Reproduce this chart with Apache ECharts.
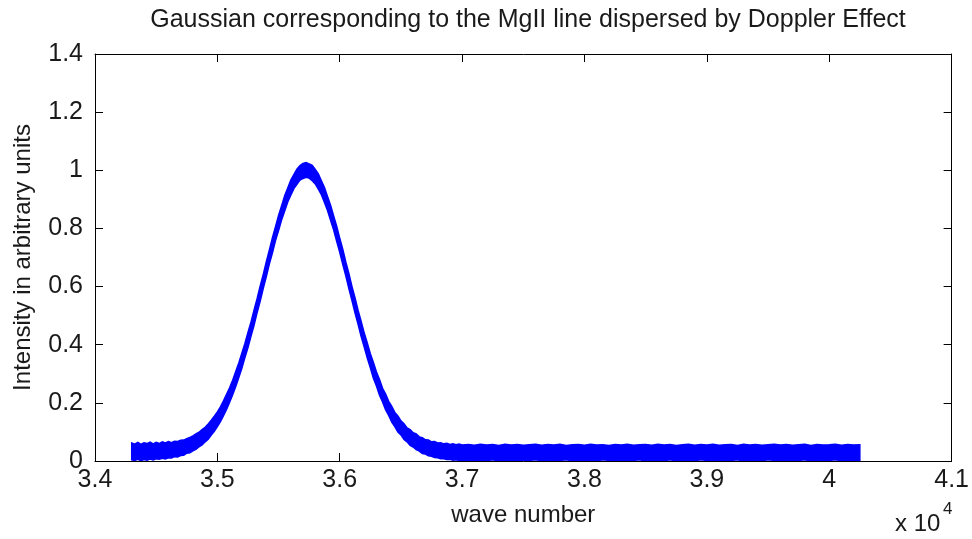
<!DOCTYPE html>
<html>
<head>
<meta charset="utf-8">
<script src="https://cdn.jsdelivr.net/npm/echarts@6/dist/echarts.min.js"></script>
<style>
  html, body { margin: 0; padding: 0; background: #fff; }
  #main { width: 972px; height: 539px; }
</style>
</head>
<body>
<div id="main"></div>
<script>
// wave numbers
var waveNumber = [
  34300, 34325, 34350, 34375, 34400, 34425, 34450, 34475, 34500, 34525,
  34550, 34575, 34600, 34625, 34650, 34675, 34700, 34725, 34750, 34775,
  34800, 34825, 34850, 34875, 34900, 34925, 34950, 34975, 35000, 35025,
  35050, 35075, 35100, 35125, 35150, 35175, 35200, 35225, 35250, 35275,
  35300, 35325, 35350, 35375, 35400, 35425, 35450, 35475, 35500, 35525,
  35550, 35575, 35600, 35625, 35650, 35675, 35700, 35725, 35750, 35775,
  35800, 35825, 35850, 35875, 35900, 35925, 35950, 35975, 36000, 36025,
  36050, 36075, 36100, 36125, 36150, 36175, 36200, 36225, 36250, 36275,
  36300, 36325, 36350, 36375, 36400, 36425, 36450, 36475, 36500, 36525,
  36550, 36575, 36600, 36625, 36650, 36675, 36700, 36725, 36750, 36775,
  36800, 36825, 36850, 36875, 36900, 36925, 36950, 36975, 37000,
  37050, 37100, 37150, 37200, 37250, 37300, 37350, 37400, 37450, 37500,
  37550, 37600, 37650, 37700, 37750, 37800, 37850, 37900, 37950, 38000,
  38050, 38100, 38150, 38200, 38250, 38300, 38350, 38400, 38450, 38500,
  38550, 38600, 38650, 38700, 38750, 38800, 38850, 38900, 38950, 39000,
  39050, 39100, 39150, 39200, 39250, 39300, 39350, 39400, 39450, 39500,
  39550, 39600, 39650, 39700, 39750, 39800, 39850, 39900, 39950, 40000,
  40050, 40100, 40150, 40200, 40250
];
// top edge of the noisy band
var upperVal = [
  0.062, 0.058, 0.064, 0.057, 0.063, 0.060, 0.065, 0.059, 0.064, 0.060,
  0.066, 0.062, 0.067, 0.063, 0.068, 0.067, 0.071, 0.072, 0.077, 0.081,
  0.086, 0.093, 0.099, 0.108, 0.116, 0.127, 0.140, 0.154, 0.169, 0.186,
  0.207, 0.229, 0.252, 0.278, 0.308, 0.337, 0.371, 0.404, 0.442, 0.478,
  0.520, 0.559, 0.602, 0.642, 0.686, 0.726, 0.768, 0.806, 0.845, 0.878,
  0.912, 0.939, 0.966, 0.985, 1.004, 1.016, 1.024, 1.027, 1.022, 1.017,
  1.003, 0.988, 0.964, 0.941, 0.910, 0.880, 0.843, 0.808, 0.766, 0.728,
  0.684, 0.644, 0.600, 0.561, 0.518, 0.480, 0.440, 0.406, 0.369, 0.339,
  0.306, 0.280, 0.250, 0.230, 0.205, 0.188, 0.167, 0.155, 0.138, 0.128,
  0.114, 0.108, 0.097, 0.093, 0.083, 0.080, 0.073, 0.072, 0.066, 0.067,
  0.062, 0.063, 0.059, 0.061, 0.057, 0.059, 0.056, 0.058, 0.055,
  0.057, 0.054, 0.058, 0.055, 0.057, 0.053, 0.058, 0.055, 0.057, 0.054,
  0.056, 0.058, 0.054, 0.057, 0.055, 0.058, 0.053, 0.056, 0.057, 0.054,
  0.058, 0.055, 0.056, 0.053, 0.057, 0.055, 0.058, 0.054, 0.056, 0.057,
  0.054, 0.058, 0.055, 0.057, 0.053, 0.056, 0.058, 0.054, 0.057, 0.055,
  0.058, 0.054, 0.056, 0.057, 0.053, 0.058, 0.055, 0.057, 0.054, 0.056,
  0.058, 0.055, 0.057, 0.054, 0.056, 0.058, 0.053, 0.057, 0.055, 0.056,
  0.058, 0.054, 0.057, 0.055, 0.056
];
// bottom edge of the noisy band
var lowerVal = [
  0.004, 0.002, 0.006, 0.001, 0.005, 0.003, 0.007, 0.004, 0.008, 0.006,
  0.009, 0.007, 0.011, 0.010, 0.015, 0.014, 0.019, 0.020, 0.027, 0.028,
  0.035, 0.040, 0.049, 0.055, 0.066, 0.075, 0.089, 0.102, 0.118, 0.135,
  0.156, 0.177, 0.202, 0.228, 0.256, 0.287, 0.319, 0.356, 0.390, 0.430,
  0.468, 0.511, 0.550, 0.594, 0.634, 0.678, 0.716, 0.758, 0.793, 0.830,
  0.860, 0.891, 0.914, 0.937, 0.952, 0.966, 0.972, 0.976, 0.973, 0.964,
  0.953, 0.935, 0.916, 0.889, 0.862, 0.828, 0.795, 0.756, 0.718, 0.676,
  0.636, 0.592, 0.552, 0.509, 0.470, 0.428, 0.392, 0.354, 0.321, 0.285,
  0.258, 0.226, 0.203, 0.176, 0.157, 0.134, 0.118, 0.100, 0.090, 0.074,
  0.066, 0.054, 0.048, 0.039, 0.034, 0.026, 0.024, 0.018, 0.016, 0.012,
  0.011, 0.008, 0.008, 0.005, 0.006, 0.003, 0.004, 0.002, 0.003,
  0.002, 0.000, 0.003, 0.001, 0.004, 0.000, 0.002, 0.001, 0.003, 0.000,
  0.002, 0.004, 0.001, 0.003, 0.000, 0.002, 0.004, 0.001, 0.002, 0.000,
  0.003, 0.001, 0.004, 0.002, 0.000, 0.003, 0.001, 0.002, 0.004, 0.000,
  0.002, 0.003, 0.001, 0.004, 0.000, 0.002, 0.003, 0.001, 0.004, 0.002,
  0.000, 0.003, 0.001, 0.002, 0.004, 0.000, 0.002, 0.003, 0.001, 0.004,
  0.002, 0.000, 0.003, 0.001, 0.002, 0.004, 0.000, 0.003, 0.001, 0.002,
  0.004, 0.001, 0.003, 0.000, 0.002
];
var xTickLabels = ['3.4', '3.5', '3.6', '3.7', '3.8', '3.9', '4', '4.1'];
var yTickLabels = ['0', '0.2', '0.4', '0.6', '0.8', '1', '1.2', '1.4'];

var FONT = '"Liberation Sans", Arial, Helvetica, sans-serif';
var TXT = '#1a1a1a';

var myChart = echarts.init(document.getElementById('main'), null, { renderer: 'canvas' });

var boxAxis = {
    axisLine: { show: true, onZero: false, lineStyle: { color: '#000', width: 1 } },
    axisTick: { show: true, inside: true, length: 8, lineStyle: { color: '#000', width: 1 } },
    splitLine: { show: false }
};

var option = {
    animation: false,
    backgroundColor: '#fff',
    grid: { left: 95, right: 17, top: 54, bottom: 78, containLabel: false },
    graphic: [
        {
            type: 'text', x: 528, y: 8,
            style: { text: 'Gaussian corresponding to the MgII line dispersed by Doppler Effect',
                     font: '25px ' + FONT, fill: TXT, textAlign: 'center' }
        },
        {
            type: 'text', x: 895, y: 512,
            style: { text: 'x 10', font: '24px ' + FONT, fill: TXT }
        },
        {
            type: 'text', x: 943, y: 501,
            style: { text: '4', font: '17px ' + FONT, fill: TXT }
        }
    ],
    xAxis: [
        Object.assign({}, boxAxis, {
            type: 'value', position: 'bottom', min: 34000, max: 41000, interval: 1000,
            name: 'wave number', nameLocation: 'middle', nameGap: 42,
            nameTextStyle: { fontFamily: FONT, fontSize: 24, color: TXT },
            axisLabel: {
                fontFamily: FONT, fontSize: 25, color: TXT, margin: 7,
                formatter: function (v) { return xTickLabels[Math.round((v - 34000) / 1000)]; }
            }
        }),
        Object.assign({}, boxAxis, {
            type: 'value', position: 'top', min: 34000, max: 41000, interval: 1000,
            axisLabel: { show: false }
        })
    ],
    yAxis: [
        Object.assign({}, boxAxis, {
            type: 'value', position: 'left', min: 0, max: 1.4, interval: 0.2,
            name: 'Intensity in arbitrary units', nameLocation: 'middle', nameGap: 60,
            nameTextStyle: { fontFamily: FONT, fontSize: 24, color: TXT },
            axisLabel: {
                fontFamily: FONT, fontSize: 25, color: TXT, margin: 12,
                formatter: function (v) { return yTickLabels[Math.round(v / 0.2)]; }
            }
        }),
        Object.assign({}, boxAxis, {
            type: 'value', position: 'right', min: 0, max: 1.4, interval: 0.2,
            axisLabel: { show: false }
        })
    ],
    series: [
        {
            // filled band between the two envelopes
            type: 'custom',
            xAxisIndex: 0,
            yAxisIndex: 0,
            data: [0],
            clip: true,
            renderItem: function (params, api) {
                var pts = [];
                for (var i = 0; i < waveNumber.length; i++) {
                    pts.push(api.coord([waveNumber[i], upperVal[i]]));
                }
                for (var j = waveNumber.length - 1; j >= 0; j--) {
                    pts.push(api.coord([waveNumber[j], lowerVal[j]]));
                }
                return {
                    type: 'polygon',
                    shape: { points: pts },
                    style: { fill: '#0000ff', stroke: '#0000ff', lineWidth: 1.5, lineJoin: 'miter' }
                };
            }
        }
    ]
};

myChart.setOption(option);
</script>
</body>
</html>
